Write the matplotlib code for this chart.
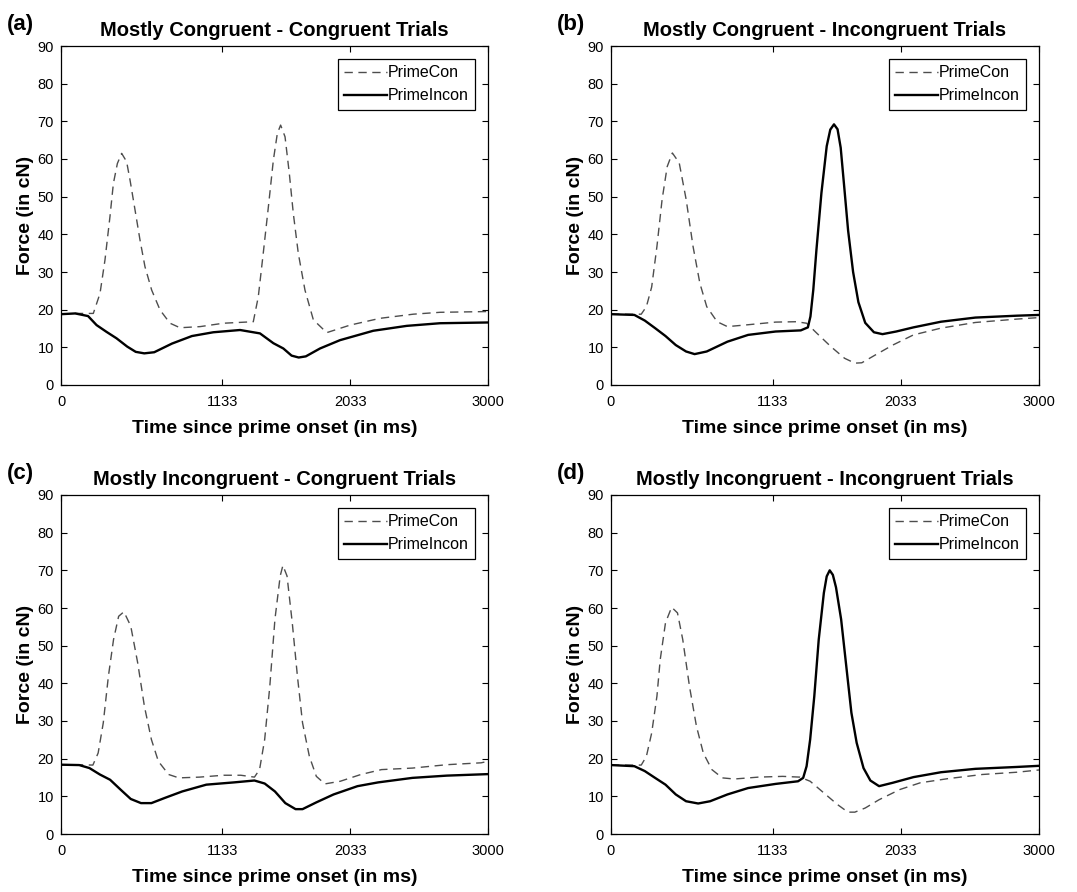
import matplotlib
matplotlib.use("Agg")
import matplotlib.pyplot as plt

plt.rcParams['font.family'] = ['Liberation Sans', 'DejaVu Sans']

# ---- data (time in ms, force in cN) ----

# (a) Mostly Congruent - Congruent Trials
a_con_t = [0, 100, 227, 274, 309, 344, 368, 396, 426, 461, 485, 520, 555, 590, 637, 696, 766, 836, 977, 1141,
           1351, 1386, 1421, 1457, 1492, 1520, 1543, 1574, 1604, 1632, 1667, 1714, 1773, 1867, 2031, 2241,
           2475, 2663, 3000]
a_con_y = [18.8, 19.0, 19.0, 24.3, 33.2, 44.7, 53.5, 58.8, 61.5, 59.3, 54.4, 46.5, 38.5, 31.4, 25.2, 19.9,
           16.4, 15.2, 15.5, 16.4, 16.8, 23.4, 35.0, 47.3, 59.7, 66.8, 69.0, 65.9, 56.2, 45.6, 35.0, 25.2, 17.3,
           13.9, 15.9, 17.7, 18.8, 19.3, 19.5]
a_inc_t = [0, 100, 190, 250, 320, 390, 465, 525, 585, 655, 780, 920, 1070, 1258, 1398, 1492, 1562, 1620,
           1670, 1720, 1820, 1960, 2194, 2429, 2663, 3000]
a_inc_y = [18.8, 19.0, 18.3, 15.9, 14.1, 12.4, 10.2, 8.8, 8.4, 8.7, 11.0, 13.0, 14.0, 14.6, 13.7, 11.1, 9.7,
           7.8, 7.3, 7.6, 9.7, 11.9, 14.4, 15.7, 16.4, 16.6]

# (b) Mostly Congruent - Incongruent Trials
b_con_t = [0, 100, 212, 248, 285, 322, 358, 394, 430, 478, 527, 575, 623, 671, 744, 816, 961, 1154, 1299,
           1371, 1444, 1541, 1637, 1709, 1758, 1854, 1975, 2120, 2313, 2554, 2845, 3000]
b_con_y = [18.8, 18.8, 18.8, 20.8, 26.0, 36.8, 49.2, 58.0, 61.6, 59.0, 49.2, 36.8, 27.0, 20.8, 16.8, 15.5,
           16.0, 16.7, 16.8, 16.4, 13.7, 10.2, 7.1, 5.8, 5.9, 8.0, 10.6, 13.3, 15.1, 16.6, 17.5, 17.9]
b_inc_t = [0, 164, 237, 309, 382, 454, 526, 586, 671, 816, 961, 1154, 1330, 1380, 1398, 1418, 1440, 1475,
           1512, 1537, 1563, 1588, 1610, 1635, 1662, 1697, 1734, 1782, 1843, 1903, 1999, 2120, 2313, 2554,
           2845, 3000]
b_inc_y = [18.8, 18.6, 17.1, 15.1, 13.0, 10.6, 8.9, 8.2, 8.9, 11.5, 13.3, 14.2, 14.5, 15.3, 18.2, 25.3, 35.9,
           51.0, 63.4, 67.8, 69.2, 67.9, 63.0, 52.5, 41.0, 30.0, 22.0, 16.5, 14.0, 13.5, 14.2, 15.3, 16.8, 17.9,
           18.4, 18.6]

# (c) Mostly Incongruent - Congruent Trials
c_con_t = [0, 100, 224, 261, 297, 333, 369, 405, 442, 490, 539, 586, 635, 684, 756, 828, 973, 1142, 1263,
           1359, 1395, 1431, 1467, 1503, 1540, 1559, 1588, 1625, 1661, 1697, 1745, 1794, 1854, 1962, 2107,
           2252, 2469, 2711, 2952, 3000]
c_con_y = [18.4, 18.4, 18.3, 21.5, 29.5, 41.9, 51.6, 57.8, 59.0, 55.2, 45.4, 33.9, 25.1, 19.3, 15.8, 14.9,
           15.1, 15.6, 15.6, 15.1, 17.1, 25.1, 39.2, 57.0, 68.5, 71.3, 68.5, 56.0, 41.9, 29.5, 20.6, 15.3, 13.3,
           14.0, 15.8, 17.1, 17.5, 18.4, 18.9, 19.3]
c_inc_t = [0, 128, 200, 273, 345, 418, 490, 562, 635, 731, 852, 1021, 1215, 1359, 1431, 1503, 1576, 1648,
           1697, 1794, 1915, 2083, 2228, 2469, 2711, 3000]
c_inc_y = [18.4, 18.3, 17.5, 15.8, 14.4, 11.8, 9.3, 8.2, 8.2, 9.6, 11.3, 13.1, 13.7, 14.2, 13.4, 11.3, 8.2,
           6.6, 6.6, 8.4, 10.5, 12.7, 13.7, 14.9, 15.5, 15.9]

# (d) Mostly Incongruent - Incongruent Trials
d_con_t = [0, 100, 212, 248, 285, 322, 345, 382, 425, 466, 503, 550, 599, 647, 707, 780, 864, 1033, 1203,
           1324, 1396, 1492, 1588, 1661, 1709, 1782, 1879, 2024, 2168, 2362, 2603, 2845, 3000]
d_con_y = [18.3, 18.3, 18.3, 20.6, 26.8, 36.6, 46.3, 56.1, 60.2, 58.7, 51.6, 39.2, 28.6, 21.5, 17.1, 14.9,
           14.6, 15.1, 15.3, 15.1, 14.0, 10.9, 7.8, 5.8, 5.8, 6.9, 9.1, 11.8, 13.6, 14.7, 15.8, 16.4, 17.0]
d_inc_t = [0, 164, 237, 309, 382, 454, 526, 611, 695, 816, 961, 1154, 1311, 1347, 1371, 1396, 1425, 1456,
           1492, 1512, 1533, 1555, 1577, 1613, 1649, 1685, 1722, 1770, 1818, 1879, 1975, 2120, 2313, 2554,
           2845, 3000]
d_inc_y = [18.3, 18.0, 16.7, 14.9, 13.1, 10.5, 8.7, 8.1, 8.7, 10.5, 12.2, 13.3, 14.0, 14.9, 18.0, 25.1, 36.6,
           51.6, 64.0, 68.4, 70.0, 68.8, 65.5, 57.0, 44.6, 32.2, 24.2, 17.5, 14.2, 12.7, 13.6, 15.1, 16.4, 17.3,
           17.8, 18.1]

titles = ["Mostly Congruent - Congruent Trials", "Mostly Congruent - Incongruent Trials",
          "Mostly Incongruent - Congruent Trials", "Mostly Incongruent - Incongruent Trials"]
letters = ["(a)", "(b)", "(c)", "(d)"]
xticks = [0, 1133, 2033, 3000]
yticks = [0, 10, 20, 30, 40, 50, 60, 70, 80, 90]

panels = [
    (a_con_t, a_con_y, a_inc_t, a_inc_y),
    (b_con_t, b_con_y, b_inc_t, b_inc_y),
    (c_con_t, c_con_y, c_inc_t, c_inc_y),
    (d_con_t, d_con_y, d_inc_t, d_inc_y),
]

W, H = 1077, 892
fig = plt.figure(figsize=(W / 100, H / 100), dpi=100)

# axes boxes in pixels: left, top, width, height
boxes = [(61, 46, 427, 339), (611, 46, 428, 339), (61, 495, 427, 339), (611, 495, 428, 339)]
letter_x = [7, 557, 7, 557]

for i in range(4):
    l, t, w, h = boxes[i]
    ax = fig.add_axes([l / W, 1 - (t + h) / H, w / W, h / H])
    ct, cy, it, iy = panels[i]
    ax.plot(ct, cy, color='#4d4d4d', lw=1.0, ls=(0, (6, 4)), label='PrimeCon')
    ax.plot(it, iy, color='black', lw=1.7, label='PrimeIncon')
    ax.set_xlim(0, 3000)
    ax.set_ylim(0, 90)
    ax.set_xticks(xticks)
    ax.set_yticks(yticks)
    ax.tick_params(direction='in', top=True, right=True, labelsize=10.5, length=4, width=0.8)
    ax.tick_params(axis='x', pad=7)
    ax.tick_params(axis='y', pad=5)
    for s in ax.spines.values():
        s.set_linewidth(0.9)
    ax.set_title(titles[i], fontsize=14.5, fontweight='bold', pad=7.5)
    ax.set_xlabel("Time since prime onset (in ms)", fontsize=14, fontweight='bold', labelpad=8)
    ax.set_ylabel("Force (in cN)", fontsize=14, fontweight='bold', labelpad=3)
    leg = ax.legend(loc='upper right', fontsize=11.5, fancybox=False, framealpha=1,
                    edgecolor='black', handlelength=2.7, handletextpad=0.05,
                    borderpad=0.4, labelspacing=0.5, borderaxespad=0.8)
    leg.get_frame().set_linewidth(0.9)
    fig.text(letter_x[i] / W, 1 - (t - 16) / H, letters[i],
             fontsize=16, fontweight='bold', ha='left', va='baseline')

fig.savefig("out.png", dpi=100)
